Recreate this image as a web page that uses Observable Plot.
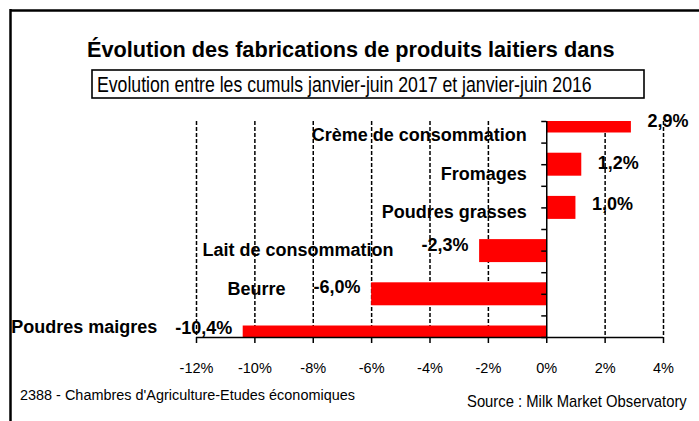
<!DOCTYPE html>
<html>
<head>
<meta charset="utf-8">
<script src="https://cdn.jsdelivr.net/npm/d3@7"></script>
<script src="https://cdn.jsdelivr.net/npm/@observablehq/plot@0.6"></script>
<style>
  html, body { margin: 0; padding: 0; background: white; }
  #wrap { position: relative; width: 699px; height: 421px; overflow: hidden; background: white; font-family: "Liberation Sans", Arial, sans-serif; }
  #chart { position: absolute; left: 0; top: 100px; }
  #overlay { position: absolute; left: 0; top: 0; pointer-events: none; }
</style>
</head>
<body>
<div id="wrap">
  <div id="chart"></div>
  <svg id="overlay" width="699" height="421" font-family="Liberation Sans, Arial, sans-serif">
    <line x1="10" y1="10.5" x2="699" y2="10.5" stroke="black" stroke-width="2.5"/>
    <line x1="10.5" y1="9" x2="10.5" y2="421" stroke="black" stroke-width="2.5"/>
    <text id="title" font-weight="bold" font-size="21.5"></text>
    <rect x="92" y="70" width="552" height="28" fill="none" stroke="black" stroke-width="1.6"/>
    <text id="subtitle" font-size="22"></text>
    <text id="credit" font-size="15"></text>
    <text id="source" font-size="16"></text>
  </svg>
</div>
<script>
// ---- data ----
const titleText = "Évolution des fabrications de produits laitiers dans";
const subtitleText = "Evolution entre les cumuls janvier-juin 2017 et janvier-juin 2016";
const creditText = "2388 - Chambres d'Agriculture-Etudes économiques";
const sourceText = "Source : Milk Market Observatory";

const categories = ["Crème de consommation", "Fromages", "Poudres grasses", "Lait de consommation", "Beurre", "Poudres maigres"];
const values = [2.9, 1.2, 1.0, -2.3, -6.0, -10.4];
const xTicks = [-12, -10, -8, -6, -4, -2, 0, 2, 4];
const gridTicks = [-12, -10, -8, -6, -4, -2, 2, 4];

// place a text at (x, baseline y) and squeeze it horizontally to a target width
function fitText(id, txt, x, y, targetWidth) {
  const el = document.getElementById(id);
  el.textContent = txt;
  const natural = el.getComputedTextLength();
  const s = natural > 0 ? targetWidth / natural : 1;
  el.setAttribute("transform", `translate(${x},${y}) scale(${s},1)`);
}
fitText("title", titleText, 87, 57, 528);
fitText("subtitle", subtitleText, 97, 92, 495);
fitText("credit", creditText, 20, 400, 335);
fitText("source", sourceText, 467, 407, 220);

const data = categories.map((name, i) => ({name, value: values[i], idx: i}));
const fmt = v => v.toFixed(1).replace(".", ",") + "%";
const pos = data.filter(d => d.value > 0);
const neg = data.filter(d => d.value < 0);
const catY = d => 0.324 + d.idx * 0.889;
const valY = d => d.idx * 0.958;
const labelStyle = {fontSize: 18, fontWeight: "bold", fill: "black", fontFamily: "Liberation Sans, Arial, sans-serif"};
const yTicks = d3.range(0, 5.001, 0.5);

const chart = Plot.plot({
  width: 699,
  height: 280,
  marginTop: 21,
  marginBottom: 43,
  marginLeft: 196,
  marginRight: 36,
  style: {fontFamily: "Liberation Sans, Arial, sans-serif", fontSize: "14.5px", background: "transparent", color: "black", overflow: "visible"},
  x: {domain: [-12, 4], label: null},
  y: {domain: [0, 5], reverse: true, axis: null},
  marks: [
    Plot.text(pos, {x: 0, y: catY, text: "name", textAnchor: "end", dx: -20, ...labelStyle}),
    Plot.text(neg, {x: "value", y: catY, text: "name", textAnchor: "end", dx: -86, ...labelStyle}),
    Plot.text(pos, {x: "value", y: valY, text: d => fmt(d.value), textAnchor: "start", dx: 16, ...labelStyle}),
    Plot.text(neg, {x: "value", y: valY, text: d => fmt(d.value), textAnchor: "end", dx: -11, ...labelStyle}),
    Plot.ruleX(gridTicks, {y1: 0, y2: 5, stroke: "black", strokeWidth: 1.5, strokeDasharray: "4,2"}),
    Plot.rect(data, {x1: 0, x2: "value", y1: d => d.idx - 0.266, y2: d => d.idx + 0.266, fill: "#ff0000", clip: true}),
    Plot.ruleX([0], {y1: 0, y2: 5, stroke: "black", strokeWidth: 1.5}),
    Plot.ruleY(yTicks, {x1: 0, x2: 0, insetLeft: -5, stroke: "black", strokeWidth: 1.5}),
    Plot.ruleY([5], {x1: -12, x2: 4, stroke: "black", strokeWidth: 1.5}),
    Plot.axisX({ticks: xTicks, tickFormat: d => d + "%", tickSize: 6, tickPadding: 19, strokeWidth: 1.5, label: null})
  ]
});
document.getElementById("chart").appendChild(chart);
</script>
</body>
</html>
